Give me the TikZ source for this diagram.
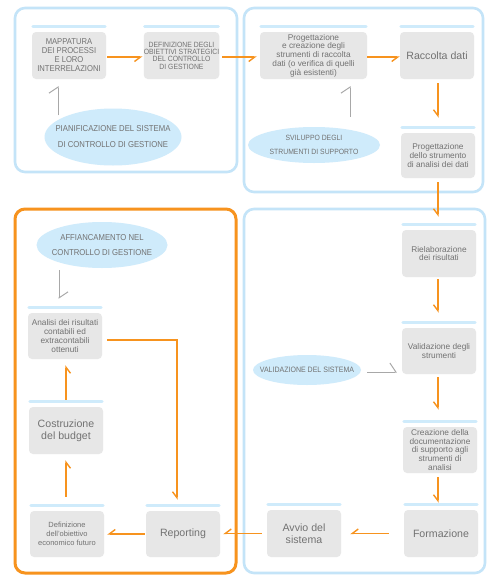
\documentclass[tikz,border=0pt]{standalone}
\usepackage{fontspec}
\setmainfont{Liberation Sans}
\newfontfamily\condfont[FakeStretch=0.9]{Liberation Sans}
\usetikzlibrary{arrows.meta,shapes.geometric}
\definecolor{boxgray}{HTML}{E7E7E7}
\definecolor{barblue}{HTML}{CFEBFB}
\definecolor{frameblue}{HTML}{C4E4F8}
\definecolor{orangec}{HTML}{F7931E}
\definecolor{txtgray}{HTML}{727272}
\definecolor{arrgray}{HTML}{A8A8A8}
\tikzset{
  stepbox/.style={rectangle, rounded corners=4pt, fill=boxgray, minimum width=74pt, minimum height=47pt, inner sep=0pt, text=txtgray, align=center},
  bigtxt/.style={font=\fontsize{10.6}{11.7}\selectfont},
  smalltxt/.style={font=\fontsize{8.3}{8.8}\selectfont},
  captxt/.style={font=\condfont\fontsize{8.5}{9}\selectfont},
  oval/.style={ellipse, fill=barblue, inner xsep=-20pt, inner ysep=0pt, text=txtgray, align=center},
  frameb/.style={draw=frameblue, line width=2.6pt, rounded corners=10pt},
  frameo/.style={draw=orangec, line width=3pt, rounded corners=10pt},
  barline/.style={draw=barblue, line width=3pt, line cap=round, shorten <=1pt, shorten >=1pt},
  oarrow/.style={draw=orangec, line width=1.4pt, -{Straight Barb[right,length=6pt,width=9pt]}},
  garrow/.style={draw=arrgray, line width=1pt, -{Straight Barb[left,length=6pt,width=18pt]}},
}
\begin{document}
\begin{tikzpicture}[x=1pt,y=-1pt]
\path[use as bounding box, fill=white] (0,0) rectangle (500,581);
% containers
\draw[frameb] (15,8) rectangle (237,172);
\draw[frameb] (244,8) rectangle (483,192);
\draw[frameo] (15,209) rectangle (236,573);
\draw[frameb] (244,209) rectangle (485,573);
% boxes
\node[stepbox,captxt] (mapp) at (69,55.5) {MAPPATURA\\DEI PROCESSI\\E LORO\\INTERRELAZIONI};
\node[stepbox,font=\condfont\fontsize{7.6}{7.3}\selectfont] (defo) at (181.5,55.5) {DEFINIZIONE DEGLI\\OBIETTIVI STRATEGICI\\DEL CONTROLLO\\DI GESTIONE};
\node[stepbox,smalltxt,minimum width=107pt] (prog) at (313.5,55.5) {Progettazione\\e creazione degli\\strumenti di raccolta\\dati (o verifica di quelli\\già esistenti)};
\node[stepbox,bigtxt] (racc) at (437,55.5) {Raccolta dati};
\node[stepbox,smalltxt,minimum height=45pt] (pan) at (438,155.5) {Progettazione\\dello strumento\\di analisi dei dati};
\node[stepbox,smalltxt] (riel) at (439,253.5) {Rielaborazione\\dei risultati};
\node[stepbox,smalltxt,minimum height=46pt] (vali) at (439,351) {Validazione degli\\strumenti};
\node[stepbox,smalltxt,minimum height=46pt] (crea) at (440,450) {Creazione della\\documentazione\\di supporto agli\\strumenti di\\analisi};
\node[stepbox,bigtxt] (form) at (441,533.5) {Formazione};
\node[stepbox,bigtxt] (avvio) at (304,533.5) {Avvio del\\sistema};
\node[stepbox,bigtxt,minimum height=46pt] (repo) at (183,534) {Reporting};
\node[stepbox,font=\fontsize{7.5}{9}\selectfont,minimum height=46pt] (defi) at (67,534) {Definizione\\dell'obiettivo\\economico futuro};
\node[stepbox,bigtxt] (cost) at (66,430.5) {Costruzione\\del budget};
\node[stepbox,smalltxt,minimum height=46pt] (anal) at (65,336) {Analisi dei risultati\\contabili ed\\extracontabili\\ottenuti};
% bars
\foreach \n in {mapp,defo,prog,racc,pan,riel,vali,crea,form,avvio,repo,defi,cost,anal}
  \draw[barline] ([yshift=5pt]\n.north west) -- ([yshift=5pt]\n.north east);
% ellipses
\node[oval,minimum width=137pt,minimum height=57pt,font=\condfont\fontsize{8.6}{16}\selectfont] (pian) at (113,137) {PIANIFICAZIONE DEL SISTEMA\\DI CONTROLLO DI GESTIONE};
\node[oval,minimum width=132pt,minimum height=36pt,font=\condfont\fontsize{7.6}{14}\selectfont] (svil) at (314,145) {SVILUPPO DEGLI\\STRUMENTI DI SUPPORTO};
\node[oval,minimum width=131pt,minimum height=46pt,font=\condfont\fontsize{8.6}{15}\selectfont] (affi) at (102,245) {AFFIANCAMENTO NEL\\CONTROLLO DI GESTIONE};
\node[oval,minimum width=108pt,minimum height=30pt,font=\condfont\fontsize{7.8}{9}\selectfont] (vals) at (307,370) {VALIDAZIONE DEL SISTEMA};
% orange connectors
\draw[oarrow,shorten <=1pt,shorten >=1pt] ([yshift=-1.5pt]mapp.east) -- ([yshift=-1.5pt]mapp.east -| defo.west);
\draw[oarrow,shorten <=3pt,shorten >=3pt] ([yshift=-1.5pt]defo.east) -- ([yshift=-1.5pt]defo.east -| prog.west);
\draw[oarrow,shorten <=0pt,shorten >=0pt] ([yshift=-1.5pt]prog.east) -- ([yshift=-1.5pt]prog.east -| racc.west);
\draw[oarrow,shorten <=4pt,shorten >=15pt] ([xshift=1pt]racc.south) -- ([xshift=1pt]racc.south |- pan.north);
\draw[oarrow,shorten <=4pt,shorten >=13pt] (pan.south) -- (pan.south |- riel.north);
\draw[oarrow,shorten <=2pt,shorten >=15pt] ([xshift=-1pt]riel.south) -- ([xshift=-1pt]riel.south |- vali.north);
\draw[oarrow,shorten <=3pt,shorten >=17pt] ([xshift=-1pt]vali.south) -- ([xshift=-1pt]vali.south |- crea.north);
\draw[oarrow,shorten <=4pt,shorten >=7pt] ([xshift=-2pt]crea.south) -- ([xshift=-2pt]crea.south |- form.north);
\draw[oarrow,shorten <=15pt,shorten >=9pt] (form.west) -- (form.west -| avvio.east);
\draw[oarrow,shorten <=5pt,shorten >=3pt] (avvio.west) -- (avvio.west -| repo.east);
\draw[oarrow,shorten <=1pt,shorten >=3pt] (repo.west) -- (repo.west -| defi.east);
\draw[oarrow,shorten <=14pt,shorten >=6pt] ([xshift=-1pt]defi.north) -- ([xshift=-1pt]defi.north |- cost.south);
\draw[oarrow,shorten <=7pt,shorten >=6pt] (cost.north) -- (cost.north |- anal.south);
\draw[oarrow,shorten <=5pt,shorten >=11pt] ([yshift=-4pt]anal.east) -| ([xshift=-6pt]repo.north);
% gray connectors
\draw[garrow] ([xshift=-11pt,yshift=-7pt]pian.north -| mapp.south) -- ([xshift=-11pt,yshift=-7pt]mapp.south);
\draw[garrow] ([xshift=36.5pt,yshift=10pt]svil.north -| prog.south) -- ([xshift=36.5pt,yshift=-7pt]prog.south);
\draw[garrow] ([xshift=-6pt,yshift=-2pt]affi.south -| anal.north) -- ([xshift=-6pt,yshift=14pt]anal.north);
\draw[garrow] ([xshift=6pt,yshift=-2pt]vals.east) -- ([xshift=-5pt,yshift=-2pt]vali.west |- vals.east);
\end{tikzpicture}
\end{document}
